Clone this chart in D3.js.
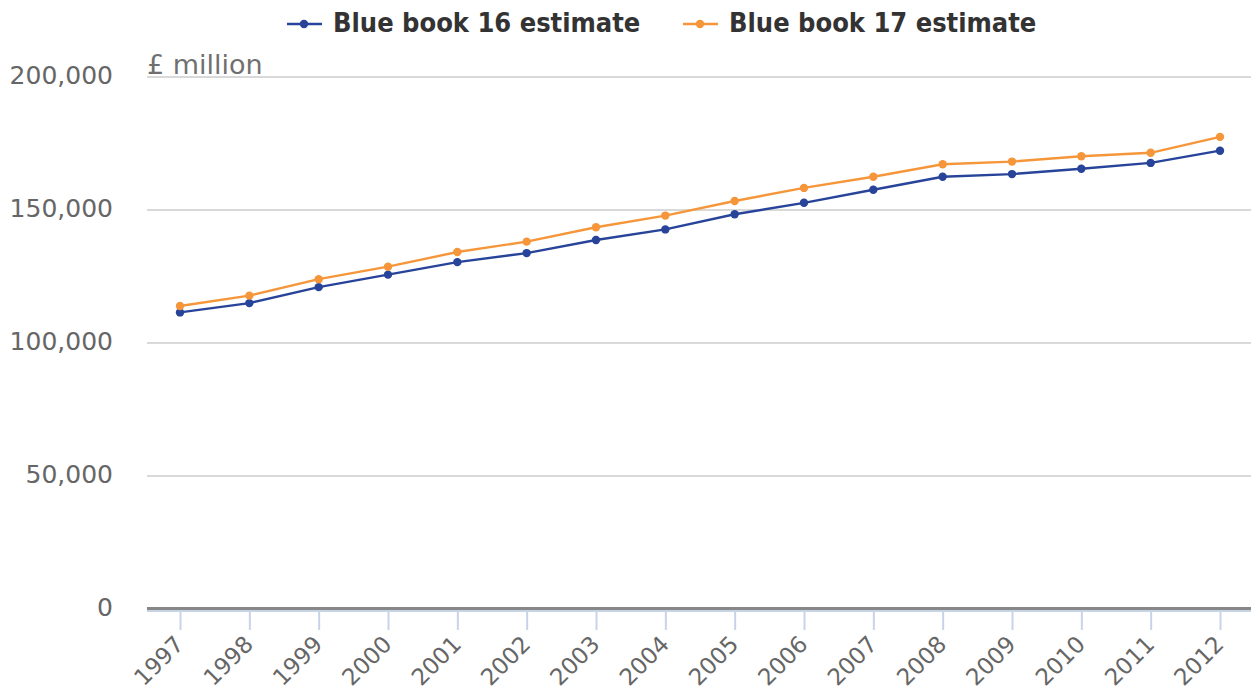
<!DOCTYPE html>
<html>
<head>
<meta charset="utf-8">
<script src="https://cdn.jsdelivr.net/npm/d3@7/dist/d3.min.js"></script>
<style>
  html, body { margin: 0; padding: 0; background: #fff; }
  svg { display: block; }
</style>
</head>
<body>
<svg id="chart" width="1251" height="691"></svg>
<script>
// Annual estimates, £ million
const years = ["1997","1998","1999","2000","2001","2002","2003","2004","2005","2006","2007","2008","2009","2010","2011","2012"];
const bb16 = [111500, 115000, 121000, 125700, 130400, 133800, 138700, 142700, 148400, 152700, 157600, 162500, 163500, 165500, 167700, 172300];
const bb17 = [113900, 117800, 124000, 128700, 134200, 138100, 143500, 147900, 153400, 158300, 162500, 167200, 168200, 170200, 171500, 177500];
const yTicks = [0, 50000, 100000, 150000, 200000];
const seriesNames = ["Blue book 16 estimate", "Blue book 17 estimate"];
const seriesColors = ["#27449a", "#f6963a"];

const svg = d3.select("#chart");
const plotLeft = 147, plotRight = 1251;

const x = d3.scalePoint().domain(years).range([180, 1220]);
const y = d3.scaleLinear().domain([0, 200000]).range([609, 77]);

// horizontal gridlines
svg.append("g")
  .selectAll("line")
  .data(yTicks.filter(d => d > 0))
  .join("line")
  .attr("x1", plotLeft).attr("x2", plotRight)
  .attr("y1", d => y(d)).attr("y2", d => y(d))
  .attr("stroke", "#d9d9d9").attr("stroke-width", 2);

// y tick labels
svg.append("g")
  .selectAll("text")
  .data(yTicks)
  .join("text")
  .attr("x", 113).attr("y", d => y(d) + 7)
  .attr("text-anchor", "end")
  .attr("font-family", "DejaVu Sans")
  .attr("font-size", 25)
  .attr("fill", "#666666")
  .text(d => d3.format(",")(d));

// unit label
svg.append("text")
  .attr("x", 147).attr("y", 74)
  .attr("font-family", "DejaVu Sans")
  .attr("font-size", 27)
  .attr("fill", "#707070")
  .text("£ million");

// x axis
const xAxis = svg.append("g")
  .attr("transform", `translate(0,${y(0) + 1})`)
  .call(d3.axisBottom(x).tickSize(20).tickSizeOuter(0));
xAxis.select(".domain").remove();
xAxis.selectAll(".tick line").attr("stroke", "#c6d4e6").attr("stroke-width", 2);
xAxis.selectAll(".tick text")
  .attr("x", 0).attr("y", 0)
  .attr("dy", "0.35em")
  .attr("font-family", "DejaVu Sans")
  .attr("font-size", 23)
  .attr("fill", "#666666")
  .attr("text-anchor", "end")
  .attr("transform", "translate(-1,30) rotate(-45)");

// axis line and zero line
svg.append("line")
  .attr("x1", plotLeft).attr("x2", plotRight)
  .attr("y1", y(0) + 2).attr("y2", y(0) + 2)
  .attr("stroke", "#c6d4e6").attr("stroke-width", 2);
svg.append("line")
  .attr("x1", plotLeft).attr("x2", plotRight)
  .attr("y1", y(0) - 0.5).attr("y2", y(0) - 0.5)
  .attr("stroke", "#878787").attr("stroke-width", 3);

// series
const line = d3.line().x((d, i) => x(years[i])).y(d => y(d));
[bb16, bb17].forEach((vals, si) => {
  const g = svg.append("g");
  g.append("path")
    .datum(vals)
    .attr("d", line)
    .attr("fill", "none")
    .attr("stroke", seriesColors[si])
    .attr("stroke-width", 2.4);
  g.selectAll("circle")
    .data(vals)
    .join("circle")
    .attr("cx", (d, i) => x(years[i]))
    .attr("cy", d => y(d))
    .attr("r", 4.2)
    .attr("fill", seriesColors[si]);
});

// legend
const legendX = [287, 683];
seriesNames.forEach((name, i) => {
  const lg = svg.append("g").attr("transform", `translate(${legendX[i]},24)`);
  lg.append("line").attr("x1", 0).attr("x2", 35).attr("y1", 0).attr("y2", 0)
    .attr("stroke", seriesColors[i]).attr("stroke-width", 2.4);
  lg.append("circle").attr("cx", 17).attr("cy", 0).attr("r", 4.2).attr("fill", seriesColors[i]);
  lg.append("text")
    .attr("x", 46).attr("y", 8)
    .attr("font-family", "DejaVu Sans Condensed, DejaVu Sans")
    .attr("font-stretch", "condensed")
    .attr("font-weight", "bold")
    .attr("font-size", 27)
    .attr("fill", "#333333")
    .text(name);
});
</script>
</body>
</html>
